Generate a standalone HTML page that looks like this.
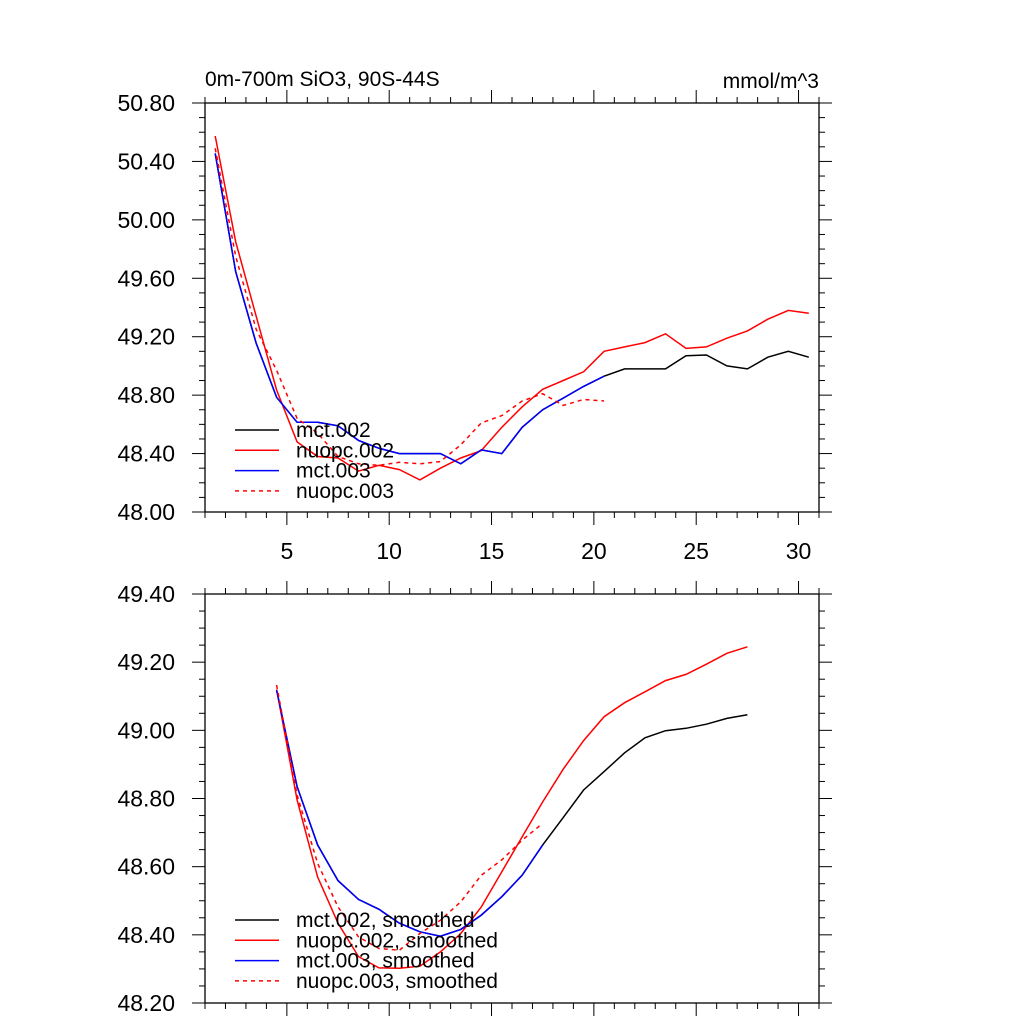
<!DOCTYPE html>
<html><head><meta charset="utf-8"><style>
html,body{margin:0;padding:0;background:#fff;}
svg text{font-family:"Liberation Sans",sans-serif;fill:#000;}
</style></head><body>
<svg id="chart" width="1024" height="1024" viewBox="0 0 1024 1024" xmlns="http://www.w3.org/2000/svg">
<rect width="1024" height="1024" fill="#fff"/>
<text x="205" y="86" font-size="21">0m-700m SiO3, 90S-44S</text>
<text x="819" y="88" font-size="21" text-anchor="end">mmol/m^3</text>
</svg>
<script>
// Top panel raw series (x = 1.5 .. 30.5)
const topMct002 = [50.455,49.645,49.155,48.785,48.614,48.614,48.59,48.49,48.436,48.40,48.40,48.40,48.33,48.425,48.40,48.58,48.70,48.78,48.86,48.93,48.98,48.98,48.98,49.07,49.075,49.0,48.98,49.06,49.10,49.06];
const topNuopc002 = [50.574,49.85,49.34,48.835,48.48,48.38,48.37,48.28,48.32,48.29,48.22,48.30,48.37,48.42,48.58,48.72,48.84,48.90,48.96,49.10,49.13,49.16,49.22,49.12,49.13,49.19,49.24,49.32,49.38,49.36];
const topMct003 = [50.455,49.645,49.155,48.785,48.614,48.614,48.59,48.49,48.436,48.40,48.40,48.40,48.33,48.425,48.40,48.58,48.70,48.78,48.86,48.93];
const topNuopc003 = [50.49,49.75,49.25,48.97,48.64,48.54,48.38,48.33,48.32,48.34,48.33,48.345,48.46,48.61,48.66,48.76,48.81,48.73,48.77,48.76];
// Bottom panel smoothed series (start x = 4.5)
const botMct002 = [49.118,48.835,48.664,48.559,48.504,48.475,48.434,48.409,48.396,48.416,48.458,48.512,48.575,48.664,48.744,48.825,48.879,48.934,48.978,48.999,49.006,49.018,49.035,49.046];
const botNuopc002 = [49.12,48.796,48.57,48.434,48.336,48.303,48.302,48.308,48.35,48.404,48.482,48.585,48.688,48.79,48.886,48.97,49.04,49.081,49.113,49.146,49.164,49.194,49.226,49.245];
const botMct003 = [49.118,48.835,48.664,48.559,48.504,48.475,48.434,48.409,48.396,48.416,48.458,48.512,48.575,48.664];
const botNuopc003 = [49.133,48.81,48.61,48.482,48.394,48.36,48.355,48.404,48.443,48.497,48.575,48.62,48.678,48.727];
const topYTicks = ["48.00","48.40","48.80","49.20","49.60","50.00","50.40","50.80"];
const botYTicks = ["48.20","48.40","48.60","48.80","49.00","49.20","49.40"];
const xTickLabels = [5,10,15,20,25,30];
const topLegend = ["mct.002","nuopc.002","mct.003","nuopc.003"];
const botLegend = ["mct.002, smoothed","nuopc.002, smoothed","mct.003, smoothed","nuopc.003, smoothed"];

const NS="http://www.w3.org/2000/svg";
const svg=document.getElementById('chart');
function mk(tag,attrs,parent){const e=document.createElementNS(NS,tag);for(const k in attrs)e.setAttribute(k,attrs[k]);(parent||svg).appendChild(e);return e;}
const L=205,R=819;
function xs(v){return L+(v-1)*(R-L)/30;}

function panel(name,top,bot,ymin,ymax,major,minor,yTicks,showXLabels){
  const g=mk('g',{});
  
  
  const ys=v=>bot-(v-ymin)*(bot-top)/(ymax-ymin);
  const fr=mk('rect',{x:L,y:top,width:R-L,height:bot-top,fill:'none',stroke:'#000','stroke-width':1.3},g);
  
  
  for(let v=1;v<=31;v++){
    const x=xs(v);const len=(v%5===0)?13:6;
    mk('line',{x1:x,x2:x,y1:bot,y2:bot+len,stroke:'#000','stroke-width':1},g);
    mk('line',{x1:x,x2:x,y1:top,y2:top-len,stroke:'#000','stroke-width':1},g);
  }
  if(showXLabels){
    xTickLabels.forEach(v=>{const t=mk('text',{x:xs(v),y:bot+47,'font-size':23,'text-anchor':'middle'},g);t.textContent=v;
      
      });
  }
  const n=Math.round((ymax-ymin)/minor);
  for(let i=0;i<=n;i++){
    const v=ymin+i*minor;const y=ys(v);
    const isMaj=Math.abs((v-ymin)/major-Math.round((v-ymin)/major))<1e-6;
    const len=isMaj?13:6;
    mk('line',{x1:L,x2:L-len,y1:y,y2:y,stroke:'#000','stroke-width':1},g);
    mk('line',{x1:R,x2:R+len,y1:y,y2:y,stroke:'#000','stroke-width':1},g);
  }
  yTicks.forEach(s=>{const t=mk('text',{x:175,y:ys(parseFloat(s))+8,'font-size':23,'text-anchor':'end'},g);t.textContent=s;
    
    });
  return {g,ys};
}
function series(p,data,x0,color,dash,name){
  const pts=data.map((v,i)=>xs(x0+i).toFixed(1)+','+p.ys(v).toFixed(1)).join(' ');
  const pl=mk('polyline',{points:pts,fill:'none',stroke:color,'stroke-width':1.5,'stroke-dasharray':dash?'4,4':'none'},p.g);
  
  
}
function legend(p,labels,y0,name){
  const cols=['#000','#f00','#00f','#f00'];
  labels.forEach((s,i)=>{
    const y=y0+i*20.3;
    const ln=mk('line',{x1:235,x2:279,y1:y,y2:y,stroke:cols[i],'stroke-width':1.5,'stroke-dasharray':i===3?'4,4':'none'},p.g);
    
    
    const t=mk('text',{x:296,y:y+7,'font-size':21},p.g);t.textContent=s;
    
    
  });
}
const pTop=panel('top-panel',103,512,48.0,50.8,0.4,0.1,topYTicks,true);
series(pTop,topMct002,1.5,'#000',false,'line-mct002');
series(pTop,topNuopc002,1.5,'#f00',false,'line-nuopc002');
series(pTop,topMct003,1.5,'#00f',false,'line-mct003');
series(pTop,topNuopc003,1.5,'#f00',true,'line-nuopc003');
legend(pTop,topLegend,430,'top-legend');

const pBot=panel('bottom-panel',594,1003,48.2,49.4,0.2,0.05,botYTicks,false);
series(pBot,botMct002,4.5,'#000',false,'line-mct002-smoothed');
series(pBot,botNuopc002,4.5,'#f00',false,'line-nuopc002-smoothed');
series(pBot,botMct003,4.5,'#00f',false,'line-mct003-smoothed');
series(pBot,botNuopc003,4.5,'#f00',true,'line-nuopc003-smoothed');
legend(pBot,botLegend,920,'bottom-legend');
</script>
</body></html>
